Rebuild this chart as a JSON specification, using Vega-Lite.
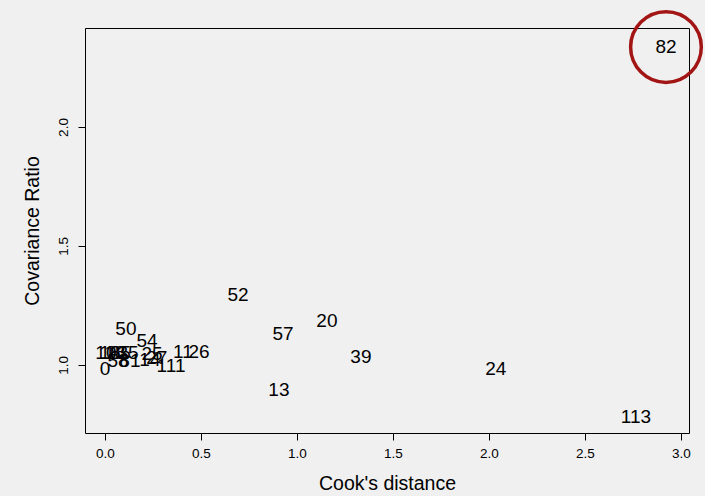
{
  "$schema": "https://vega.github.io/schema/vega-lite/v6.json",
  "width": 604,
  "height": 405,
  "autosize": {"type": "none"},
  "padding": {"left": 85, "top": 28, "right": 16, "bottom": 63},
  "background": "#f0f0f0",
  "config": {
    "view": {"stroke": "#000000", "strokeWidth": 1},
    "font": "Liberation Sans",
    "axis": {
      "domain": false,
      "grid": false,
      "tickColor": "#000000",
      "tickSize": 7,
      "labelFont": "Liberation Sans",
      "labelFontSize": 13.5,
      "labelColor": "#000000",
      "titleFont": "Liberation Sans",
      "titleFontSize": 19.5,
      "titleFontWeight": "normal",
      "titleColor": "#000000"
    }
  },
  "data": {
    "values": [
      {"id": "82", "cook": 2.922, "covratio": 2.336},
      {"id": "113", "cook": 2.766, "covratio": 0.782},
      {"id": "24", "cook": 2.036, "covratio": 0.983},
      {"id": "39", "cook": 1.333, "covratio": 1.034},
      {"id": "20", "cook": 1.156, "covratio": 1.185},
      {"id": "57", "cook": 0.927, "covratio": 1.13},
      {"id": "13", "cook": 0.906, "covratio": 0.895},
      {"id": "52", "cook": 0.693, "covratio": 1.294},
      {"id": "26", "cook": 0.49, "covratio": 1.055},
      {"id": "11", "cook": 0.406, "covratio": 1.055},
      {"id": "111", "cook": 0.344, "covratio": 0.996},
      {"id": "50", "cook": 0.109, "covratio": 1.151},
      {"id": "54", "cook": 0.219, "covratio": 1.101},
      {"id": "25", "cook": 0.245, "covratio": 1.046},
      {"id": "27", "cook": 0.27, "covratio": 1.03},
      {"id": "14", "cook": 0.234, "covratio": 1.021},
      {"id": "0", "cook": 0.0, "covratio": 0.983},
      {"id": "10", "cook": 0.005, "covratio": 1.05},
      {"id": "16", "cook": 0.026, "covratio": 1.05},
      {"id": "18", "cook": 0.052, "covratio": 1.05},
      {"id": "85", "cook": 0.08, "covratio": 1.05},
      {"id": "35", "cook": 0.12, "covratio": 1.05},
      {"id": "58", "cook": 0.068, "covratio": 1.017},
      {"id": "81", "cook": 0.13, "covratio": 1.017}
    ]
  },
  "encoding": {
    "x": {
      "field": "cook",
      "type": "quantitative",
      "title": "Cook's distance",
      "scale": {"domain": [-0.104, 3.042], "nice": false, "zero": false},
      "axis": {"values": [0, 0.5, 1, 1.5, 2, 2.5, 3], "format": ".1f", "labelPadding": 6, "titlePadding": 15}
    },
    "y": {
      "field": "covratio",
      "type": "quantitative",
      "title": "Covariance Ratio",
      "scale": {"domain": [0.714, 2.416], "nice": false, "zero": false},
      "axis": {"values": [1, 1.5, 2], "format": ".1f", "labelAngle": -90, "labelAlign": "center", "labelBaseline": "bottom", "labelPadding": 8, "titlePadding": 14}
    }
  },
  "layer": [
    {
      "mark": {"type": "text", "font": "Liberation Sans", "fontSize": 19, "color": "#000000", "align": "center", "baseline": "middle"},
      "encoding": {"text": {"field": "id"}}
    },
    {
      "transform": [{"filter": "datum.id === '82'"}],
      "mark": {"type": "point", "shape": "circle", "filled": false, "size": 5000, "stroke": "#a31515", "strokeWidth": 3.5, "opacity": 1, "clip": false}
    }
  ]
}
